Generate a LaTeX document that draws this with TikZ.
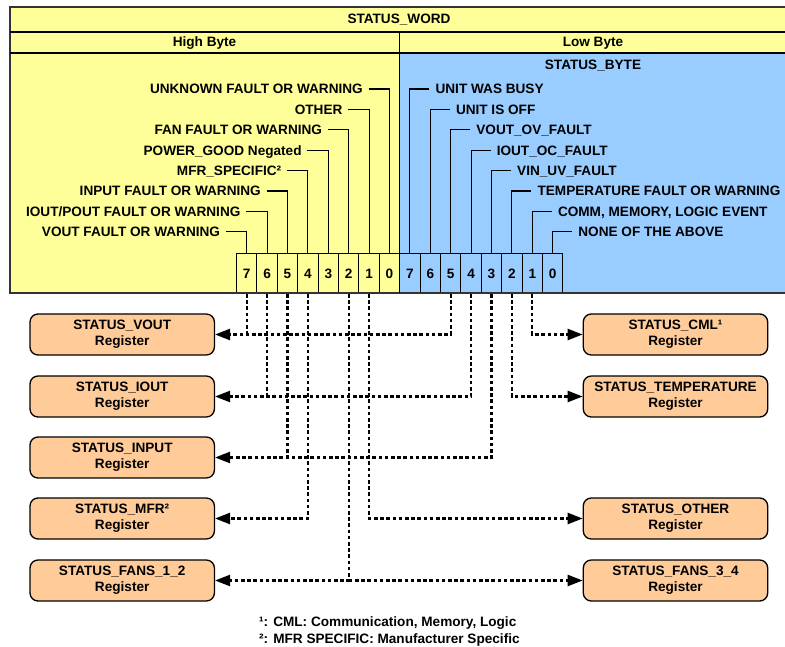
\documentclass[tikz,border=0pt]{standalone}
\usepackage{fontspec}
\setmainfont{Liberation Sans}
\usetikzlibrary{arrows.meta}
\definecolor{wordyellow}{HTML}{FFFF99}
\definecolor{lowblue}{HTML}{99CCFF}
\definecolor{regorange}{HTML}{FFCC99}
\begin{document}
\begin{tikzpicture}[x=1pt,y=-1pt,
  bigfont/.style={font=\bfseries\fontsize{13.6pt}{16.3pt}\selectfont},
  txt/.style={bigfont, inner sep=0pt, text height=9.8pt, text depth=0pt},
  bitcell/.style={bigfont, draw=black, line width=1pt, minimum width=20.4pt,
    minimum height=40pt, inner sep=0pt, anchor=north west},
  reg/.style={bigfont, draw=black, line width=1.3pt, fill=regorange,
    rounded corners=8pt, minimum width=184.4pt, minimum height=41pt,
    inner sep=0pt, align=center},
  lab/.style={line width=1.1pt},
  conn/.style={line width=2.3pt, dash pattern=on 3.6pt off 2.6pt},
  arr/.style={-{Triangle[length=15pt,width=11pt]}}
]
\useasboundingbox (0,0) rectangle (785,647);
\begin{scope}
\clip (0,0) rectangle (785,647);
% backgrounds
\fill[wordyellow] (10,7) rectangle (790,53);
\fill[wordyellow] (10,53) rectangle (399.2,293);
\fill[lowblue] (399.2,53) rectangle (790,293);
% bit cells
\foreach \b [count=\i from 0] in {7,6,5,4,3,2,1,0} {
  \node[bitcell] (h\b) at ({236+\i*20.4},253) {\b};
  \node[bitcell] (l\b) at ({399.2+\i*20.4},253) {\b};
}
% frame
\draw[line width=1.3pt, draw=black!80] (10,7) rectangle (790,293);
\draw[line width=1.3pt] (10,32) -- (790,32);
\draw[line width=1.3pt] (10,53) -- (790,53);
\draw[line width=1.3pt] (399.2,32) -- (399.2,293);
\end{scope}
% titles
\node[txt] (word) at (399,19) {STATUS\_WORD};
\node[txt] (high) at (204.5,42) {High Byte};
\node[txt] (low) at (593,42) {Low Byte};
\node[txt] (sbyte) at (593,65) {STATUS\_BYTE};
% high byte labels
\foreach \b/\t in {0/{UNKNOWN FAULT OR WARNING}, 1/{OTHER}, 2/{FAN FAULT OR WARNING},
  3/{POWER\_GOOD Negated}, 4/{MFR\_SPECIFIC²}, 5/{INPUT FAULT OR WARNING},
  6/{IOUT/POUT FAULT OR WARNING}, 7/{VOUT FAULT OR WARNING}} {
  \node[txt, anchor=east] (hl\b) at ({246.2+(7-\b)*20.4-26},{89+\b*20.4}) {\t};
  \draw[lab] ([xshift=5.6pt]hl\b.east) -| (h\b.north);
}
% low byte labels
\foreach \b/\t in {7/{UNIT WAS BUSY}, 6/{UNIT IS OFF}, 5/{VOUT\_OV\_FAULT},
  4/{IOUT\_OC\_FAULT}, 3/{VIN\_UV\_FAULT}, 2/{TEMPERATURE FAULT OR WARNING},
  1/{COMM, MEMORY, LOGIC EVENT}, 0/{NONE OF THE ABOVE}} {
  \node[txt, anchor=west] (ll\b) at ({409.4+(7-\b)*20.4+26},{89+(7-\b)*20.4}) {\t};
  \draw[lab] ([xshift=-6pt]ll\b.west) -| (l\b.north);
}
% registers
\node[reg] (vout) at (122.2,334.5) {STATUS\_VOUT\\Register};
\node[reg] (iout) at (122.2,396.5) {STATUS\_IOUT\\Register};
\node[reg] (input) at (122.2,457.5) {STATUS\_INPUT\\Register};
\node[reg] (mfr) at (122.2,518.5) {STATUS\_MFR²\\Register};
\node[reg] (fans12) at (122.2,580.5) {STATUS\_FANS\_1\_2\\Register};
\node[reg] (cml) at (675.5,334.5) {STATUS\_CML¹\\Register};
\node[reg] (temp) at (675.5,396.5) {STATUS\_TEMPERATURE\\Register};
\node[reg] (other) at (675.5,518.5) {STATUS\_OTHER\\Register};
\node[reg] (fans34) at (675.5,580.5) {STATUS\_FANS\_3\_4\\Register};
% connectors
\draw[conn,arr] (l5.south) |- (vout.east);
\draw[conn] (h7.south) -- (h7.south |- vout.east);
\draw[conn,arr] (l4.south) |- (iout.east);
\draw[conn] (h6.south) -- (h6.south |- iout.east);
\draw[conn,arr] (l3.south) |- (input.east);
\draw[conn] (h5.south) -- (h5.south |- input.east);
\draw[conn,arr] (h4.south) |- (mfr.east);
\draw[conn,arr] (h1.south) |- (other.west);
\draw[conn,arr] (h2.south) |- (fans12.east);
\coordinate (fj) at (h2.south |- fans34.west);
\draw[conn,arr] (fj) -- (fans34.west);
\draw[conn,arr] (l2.south) |- (temp.west);
\draw[conn,arr] (l1.south) |- (cml.west);
% footnotes
\node[txt, anchor=west] (fn1) at (259,622) {¹: CML: Communication, Memory, Logic};
\node[txt, anchor=west] (fn2) at (259,639) {²: MFR SPECIFIC: Manufacturer Specific};
\end{tikzpicture}
\end{document}
